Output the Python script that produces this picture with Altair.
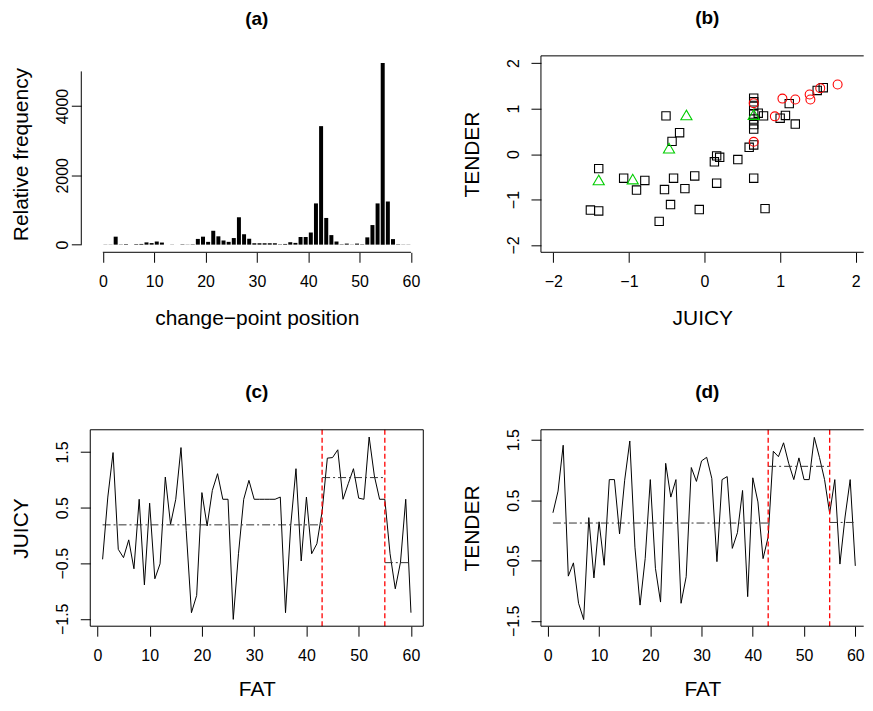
import altair as alt
import pandas as pd

FONT = "Liberation Sans"
MINUS = "\u2212"

# ---------------- (a) change-point position frequencies ----------------
cp_position = list(range(1, 61))
cp_freq = [5, 5, 230, 5, 15, 0, 15, 20, 65, 45,
           90, 60, 0, 5, 0, 10, 5, 10, 165, 230,
           80, 400, 240, 120, 80, 190, 790, 300, 170, 40,
           40, 40, 40, 40, 10, 20, 70, 50, 220, 220,
           350, 1190, 3420, 770, 275, 90, 10, 30, 5, 30,
           10, 210, 565, 1190, 5245, 1245, 160, 10, 5, 5]

# ---------------- (b) JUICY vs TENDER scatter ----------------
sq_juicy = [-1.51, -1.40, -1.40, -1.07, -0.90, -0.79, -0.51, -0.53, -0.45, -0.43,
            -0.33, -0.41, -0.60, -0.26, -0.13, -0.07, 0.13, 0.16, 0.20, 0.16,
            0.44, 0.59, 0.65, 0.65, 0.80, 0.65, 0.65, 0.65, 0.65, 0.65,
            0.65, 0.65, 0.71, 0.78, 1.00, 1.07, 1.12, 1.20, 1.49, 1.57]
sq_tender = [-1.23, -1.25, -0.32, -0.53, -0.79, -0.58, 0.84, -0.78, -1.11, 0.28,
             0.47, -0.53, -1.48, -0.76, -0.48, -1.22, -0.17, -0.04, -0.07, -0.64,
             -0.12, 0.15, 0.20, -0.53, -1.20, 1.23, 1.15, 1.07, 0.88, 0.77,
             0.65, 0.55, 0.90, 0.84, 0.79, 0.85, 1.11, 0.66, 1.40, 1.46]
tri_juicy = [-1.40, -0.95, -0.47, -0.24, 0.65]
tri_tender = [-0.57, -0.55, 0.13, 0.86, 0.87]
circ_juicy = [0.65, 0.65, 0.93, 1.03, 1.20, 1.39, 1.40, 1.53, 1.76]
circ_tender = [1.12, 0.27, 0.83, 1.22, 1.20, 1.31, 1.20, 1.45, 1.53]

# ---------------- (c), (d) series against FAT order ----------------
fat_index = list(range(1, 61))
juicy = [-0.43, 0.69, 1.49, -0.25, -0.40, -0.08, -0.60, 0.65, -0.89, 0.58,
         -0.78, -0.51, 1.05, 0.20, 0.65, 1.58, 0.09, -1.39, -1.08, 0.77,
         0.17, 0.81, 1.11, 0.65, 0.65, -1.51, -0.33, 0.65, 0.99, 0.65,
         0.65, 0.65, 0.65, 0.65, 0.69, -1.39, 0.18, 1.20, -0.46, 0.69,
         -0.33, -0.15, 0.43, 1.39, 1.40, 1.54, 0.65, 0.93, 1.20, 0.67,
         0.65, 1.77, 1.07, 0.65, 0.65, -0.33, -0.96, -0.48, 0.65, -1.39]
tender = [0.29, 0.65, 1.41, -0.76, -0.54, -1.21, -1.48, 0.21, -0.79, 0.14,
          -0.58, 0.84, 0.84, -0.06, 0.83, 1.48, -0.28, -1.24, -0.47, 0.84,
          -0.63, -1.19, 1.11, 0.55, 0.84, -1.21, -0.77, 1.04, 0.81, 1.15,
          1.21, 0.86, -0.52, 0.84, 0.89, -0.30, -0.04, 0.66, -1.10, 0.87,
          0.47, -0.47, -0.11, 1.31, 1.22, 1.45, 1.11, 0.84, 1.20, 0.84,
          0.84, 1.54, 1.21, 0.84, 0.28, 0.84, -0.56, 0.22, 0.84, -0.59]
seg_start = [1, 43, 55]
seg_end = [43, 55, 60]
juicy_seg_mean = [0.19, 1.04, -0.49]
tender_seg_mean = [0.12, 1.06, 0.13]
change_points = [43, 55]

# ---------------- layout constants ----------------
W_L, W_R, H = 334, 323.7, 197
TICK = 10


def xaxis(values, title, pad=11, tpad=18):
    return alt.Axis(values=values, domain=False, grid=False, tickSize=TICK,
                    labelPadding=pad, title=title, titlePadding=tpad,
                    format="d", labelFlush=False, labelOverlap=False)


def yaxis(values, title, fmt, expr, pad=9.5, tpad=23, offset=0):
    return alt.Axis(values=values, domain=False, grid=False, tickSize=TICK,
                    labelPadding=pad, title=title, titlePadding=tpad,
                    format=fmt, labelExpr=expr, labelAngle=-90,
                    labelAlign="center", labelBaseline="bottom",
                    labelOverlap=False, offset=offset)


def frame(width, sides):
    one = pd.DataFrame({"k": [0]})
    layers = []
    if "top" in sides:
        layers.append(alt.Chart(one).mark_rule(color="black", strokeWidth=1).encode(
            x=alt.value(0), x2=alt.value(width), y=alt.value(0)))
    if "bottom" in sides:
        layers.append(alt.Chart(one).mark_rule(color="black", strokeWidth=1).encode(
            x=alt.value(0), x2=alt.value(width), y=alt.value(H)))
    if "left" in sides:
        layers.append(alt.Chart(one).mark_rule(color="black", strokeWidth=1).encode(
            x=alt.value(0), y=alt.value(0), y2=alt.value(H)))
    if "right" in sides:
        layers.append(alt.Chart(one).mark_rule(color="black", strokeWidth=1).encode(
            x=alt.value(width), y=alt.value(0), y2=alt.value(H)))
    return layers


def title(text, dx=0):
    return alt.TitleParams(text, font=FONT, fontSize=19, fontWeight="bold",
                           color="black", offset=27, anchor="middle", dx=dx)


# ---------------- panel (a) ----------------
a_df = pd.DataFrame({"position": cp_position, "freq": cp_freq})
a_x = alt.Scale(domain=[-2.45, 62.4], nice=False, zero=False, padding=0)
a_y = alt.Scale(domain=[-221, 5448], nice=False, zero=False, padding=0)
a_bars = alt.Chart(a_df).transform_calculate(center="datum.position - 0.5").mark_bar(
    color="black", size=4.0, clip=False).encode(
    x=alt.X("center:Q", scale=a_x,
            axis=xaxis(list(range(0, 61, 10)), "change" + MINUS + "point position")),
    y=alt.Y("freq:Q", scale=a_y,
            axis=yaxis(list(range(0, 5001, 1000)), "Relative frequency", "d",
                       "datum.value % 2000 == 0 ? datum.label : ''", pad=0.5, offset=9)),
)
a_axis_df = pd.DataFrame({"lo": [0], "hi": [60], "ylo": [0], "yhi": [5000]})
a_xline = alt.Chart(a_axis_df).mark_rule(color="black").encode(
    x=alt.X("lo:Q", scale=a_x), x2="hi:Q", y=alt.value(H))
a_yline = alt.Chart(a_axis_df).mark_rule(color="black").encode(
    y=alt.Y("ylo:Q", scale=a_y), y2="yhi:Q", x=alt.value(-9))
panel_a = alt.layer(a_bars, a_xline, a_yline).properties(
    width=W_L, height=H, title=title("(a)"))

# ---------------- panel (b) ----------------
b_x = alt.Scale(domain=[-2.164, 2.105], nice=False, zero=False)
b_y = alt.Scale(domain=[-2.16, 2.16], nice=False, zero=False)
sq_df = pd.DataFrame({"JUICY": sq_juicy, "TENDER": sq_tender})
tri_df = pd.DataFrame({"JUICY": tri_juicy, "TENDER": tri_tender})
circ_df = pd.DataFrame({"JUICY": circ_juicy, "TENDER": circ_tender})
b_enc = dict(
    x=alt.X("JUICY:Q", scale=b_x, axis=xaxis([-2, -1, 0, 1, 2], "JUICY")),
    y=alt.Y("TENDER:Q", scale=b_y,
            axis=yaxis([-2, -1, 0, 1, 2], "TENDER", "d", "datum.label")),
)
b_sq = alt.Chart(sq_df).mark_point(shape="square", filled=False, color="black",
                                   size=70, strokeWidth=1.1, opacity=1).encode(**b_enc)
b_tri = alt.Chart(tri_df).mark_point(shape="triangle-up", filled=False, color="#00CD00",
                                     size=125, strokeWidth=1.1, opacity=1).encode(**b_enc)
b_circ = alt.Chart(circ_df).mark_point(shape="circle", filled=False, color="#FF0000",
                                       size=80, strokeWidth=1.1, opacity=1).encode(**b_enc)
panel_b = alt.layer(b_sq, b_tri, b_circ, *frame(W_R, ["top", "bottom", "left"])).properties(
    width=W_R, height=H, title=title("(b)", dx=5))


# ---------------- panels (c), (d) ----------------
def series_panel(values, means, name, xdom, ydom, width, sides, label, dx):
    sx = alt.Scale(domain=xdom, nice=False, zero=False)
    sy = alt.Scale(domain=ydom, nice=False, zero=False)
    df = pd.DataFrame({"FAT": fat_index, name: values})
    seg = pd.DataFrame({"s": seg_start, "e": seg_end, "m": means})
    cps = pd.DataFrame({"cp": change_points})
    line = alt.Chart(df).mark_line(color="black", strokeWidth=1).encode(
        x=alt.X("FAT:Q", scale=sx, axis=xaxis(list(range(0, 61, 10)), "FAT", tpad=15)),
        y=alt.Y(f"{name}:Q", scale=sy,
                axis=yaxis([-1.5, -1.0, -0.5, 0, 0.5, 1.0, 1.5], name, ".1f",
                           "abs(datum.value) % 1 == 0.5 ? datum.label : ''")),
    )
    means_l = alt.Chart(seg).mark_rule(color="#333333", strokeWidth=1,
                                       strokeDash=[8, 3, 2, 3]).encode(
        x=alt.X("s:Q", scale=sx), x2="e:Q", y=alt.Y("m:Q", scale=sy))
    cp_l = alt.Chart(cps).mark_rule(color="#FF0000", strokeWidth=1.3,
                                    strokeDash=[5, 3]).encode(
        x=alt.X("cp:Q", scale=sx))
    return alt.layer(line, means_l, cp_l, *frame(width, sides)).properties(
        width=width, height=H, title=title(label, dx=dx))


panel_c = series_panel(juicy, juicy_seg_mean, "JUICY", [-1.36, 62.36], [-1.633, 1.90],
                       W_L, ["top", "bottom", "left", "right"], "(c)", 0)
panel_d = series_panel(tender, tender_seg_mean, "TENDER", [-1.34, 61.64], [-1.59, 1.666],
                       W_R, ["top", "bottom", "left"], "(d)", 5)

chart = alt.concat(panel_a, panel_b, panel_c, panel_d, columns=2,
                   spacing={"row": 178, "column": 118}, bounds="flush").properties(
    padding={"left": 2.5, "top": 0, "right": 0, "bottom": -1},
    background="white",
).configure_view(stroke=None).configure_axis(
    labelFont=FONT, labelFontSize=16, labelColor="black",
    titleFont=FONT, titleFontSize=21, titleFontWeight="normal", titleColor="black",
    tickColor="black", tickWidth=1,
)

chart.save("out.html", embed_options={"renderer": "svg", "actions": False})
